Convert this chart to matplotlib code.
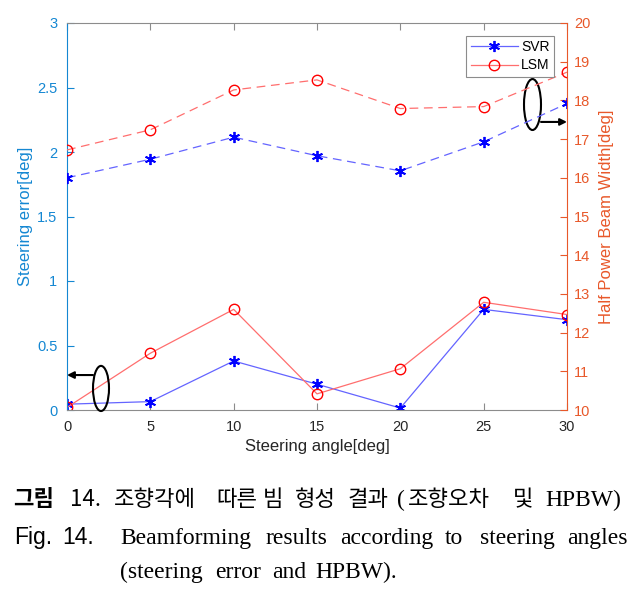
import matplotlib
matplotlib.use("Agg")
import matplotlib.pyplot as plt
from matplotlib.patches import Ellipse

plt.rcParams['font.family'] = ['Liberation Sans', 'DejaVu Sans']

# ---- data ----
angles = [0, 5, 10, 15, 20, 25, 30]
svr_err = [0.045, 0.065, 0.38, 0.20, 0.015, 0.78, 0.70]
lsm_err = [0.02, 0.44, 0.78, 0.125, 0.32, 0.835, 0.74]
svr_hpbw = [16.0, 16.48, 17.05, 16.57, 16.18, 16.93, 17.92]
lsm_hpbw = [16.72, 17.24, 18.27, 18.53, 17.79, 17.84, 18.73]
series_names = ['SVR', 'LSM']
xticks = [0, 5, 10, 15, 20, 25, 30]
left_ticks = [0, 0.5, 1, 1.5, 2, 2.5, 3]
left_ticklabels = ['0', '0.5', '1', '1.5', '2', '2.5', '3']
right_ticks = list(range(10, 21))

BLUE_AX = '#1487d2'
ORANGE_AX = '#e8582a'
GRAY = '#8c8c8c'
AST = (6, 2, 0)

fig = plt.figure(figsize=(6.4, 5.92), dpi=100)
ax1 = fig.add_axes([67/640, 1-410/592, 500/640, 387/592])
ax2 = ax1.twinx()

# solid: steering error (left axis)
l_svr, = ax1.plot(angles, svr_err, '-', color='#6464ff', lw=0.9, marker=AST,
                  ms=8, mec='#0000ff', mfc='#0000ff', mew=1.3)
l_lsm, = ax1.plot(angles, lsm_err, '-', color='#ff6e6e', lw=0.9, marker='o',
                  ms=7.5, mec='#ff0000', mfc='none', mew=1.0)
# dashed: HPBW (right axis)
ax2.plot(angles, svr_hpbw, linestyle=(0, (7, 4.5)), color='#6464ff', lw=0.9,
         marker=AST, ms=8, mec='#0000ff', mfc='#0000ff', mew=1.3)
ax2.plot(angles, lsm_hpbw, linestyle=(0, (7, 4.5)), color='#ff6e6e', lw=0.9,
         marker='o', ms=7.5, mec='#ff0000', mfc='none', mew=1.0)

ax1.set_xlim(0, 30)
ax1.set_ylim(0, 3)
ax2.set_ylim(10, 20)
ax1.set_xticks(xticks)
ax1.set_yticks(left_ticks)
ax1.set_yticklabels(left_ticklabels)
ax2.set_yticks(right_ticks)

ax1.tick_params(axis='x', direction='in', top=True, length=5, width=0.8,
                color=GRAY, labelcolor='#262626', labelsize=10.5, pad=7)
ax1.tick_params(axis='y', direction='in', length=5, width=0.8,
                color=BLUE_AX, labelcolor=BLUE_AX, labelsize=10.5, pad=7)
ax2.tick_params(axis='y', direction='in', length=5, width=0.8,
                color=ORANGE_AX, labelcolor=ORANGE_AX, labelsize=10.5, pad=5)

for s in ['top', 'bottom']:
    ax1.spines[s].set_color(GRAY)
    ax1.spines[s].set_linewidth(0.8)
    ax2.spines[s].set_visible(False)
ax1.spines['left'].set_color(BLUE_AX)
ax1.spines['left'].set_linewidth(0.8)
ax1.spines['right'].set_visible(False)
ax2.spines['left'].set_visible(False)
ax2.spines['right'].set_color(ORANGE_AX)
ax2.spines['right'].set_linewidth(0.8)

ax1.set_xlabel('Steering angle[deg]', fontsize=12, color='#262626', labelpad=4)
ax1.set_ylabel('Steering error[deg]', fontsize=12, color=BLUE_AX, labelpad=3)
ax2.set_ylabel('Half Power Beam Width[deg]', fontsize=12, color=ORANGE_AX, labelpad=6)

leg = ax2.legend(handles=[l_svr, l_lsm], labels=series_names, loc='upper right',
                 bbox_to_anchor=(0.974, 0.966), borderaxespad=0, fontsize=10,
                 fancybox=False, edgecolor=GRAY, framealpha=1, handlelength=3.4,
                 handletextpad=0.25, labelspacing=0.3, borderpad=0.3)
leg.get_frame().set_linewidth(0.8)

# annotations: ellipses with arrows (in left-axis data coordinates)
e1 = Ellipse((2.04, 0.167), 0.96, 0.35, transform=ax1.transData, fill=False,
             ec='black', lw=1.5, clip_on=False)
e2 = Ellipse((27.93, 2.368), 1.02, 0.395, transform=ax1.transData, fill=False,
             ec='black', lw=1.5, clip_on=False)
ax2.add_patch(e1)
ax2.add_patch(e2)
ax2.annotate('', xy=(0, 0.271), xytext=(1.56, 0.271), xycoords=ax1.transData,
             textcoords=ax1.transData,
             arrowprops=dict(arrowstyle='-|>', color='black', lw=1.5,
                             shrinkA=0, shrinkB=0, mutation_scale=10))
ax2.annotate('', xy=(30, 2.233), xytext=(28.44, 2.233), xycoords=ax1.transData,
             textcoords=ax1.transData,
             arrowprops=dict(arrowstyle='-|>', color='black', lw=1.5,
                             shrinkA=0, shrinkB=0, mutation_scale=10))

# ---- caption ----
CJK = ['Noto Sans CJK KR', 'DejaVu Sans']
SERIF = ['Liberation Serif', 'DejaVu Serif']
SANS = ['Liberation Sans', 'DejaVu Sans']

def put(word, x, y, fam, size, weight='normal'):
    fig.text(x/640, 1-y/592, word, ha='left', va='baseline', family=fam,
             fontsize=size, weight=weight, color='black')

line1 = [('그림', 13, CJK, 'bold'), ('14.', 70, CJK, 'normal'),
         ('조향각에', 114, CJK, 'normal'), ('따른', 216, CJK, 'normal'),
         ('빔', 263, CJK, 'normal'), ('형성', 295, CJK, 'normal'),
         ('결과', 348, CJK, 'normal'), ('조향오차', 408, CJK, 'normal'),
         ('및', 513, CJK, 'normal')]
for w, x, fam, wt in line1:
    put(w, x, 506, fam, 16, wt)
put('(', 397, 506, SERIF, 17)
put('HPBW)', 545, 506, SERIF, 17)

put('Fig.', 14, 544, SANS, 16.5)
put('14.', 62, 544, SANS, 16.5)
line2 = [('Beamforming', 120), ('results', 265), ('according', 340),
         ('to', 445), ('steering', 480), ('angles', 567)]
for w, x in line2:
    put(w, x, 544, SERIF, 17)
line3 = [('(steering', 120), ('error', 215), ('and', 272), ('HPBW).', 315)]
for w, x in line3:
    put(w, x, 578, SERIF, 17)

fig.savefig('out.png', dpi=100)
